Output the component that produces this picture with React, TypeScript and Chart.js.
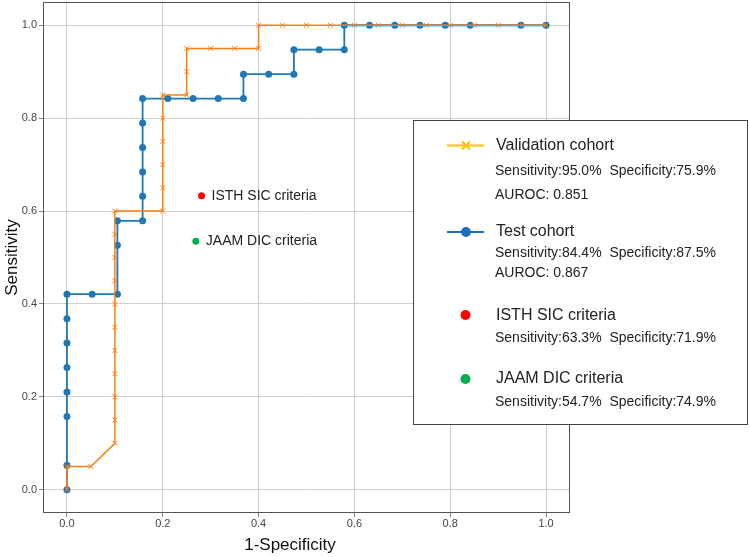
import React, { useEffect, useRef } from 'react';
import { Chart, registerables } from 'chart.js';
Chart.register(...registerables);

const FONT = '"Liberation Sans", Arial, sans-serif';

// Validation cohort ROC (1-Specificity, Sensitivity)
const valFpr = [0, 0, 0.05, 0.1, 0.1, 0.1, 0.1, 0.1, 0.1, 0.1, 0.1, 0.1, 0.1, 0.1, 0.2, 0.2, 0.2, 0.2, 0.2, 0.2, 0.25, 0.25, 0.25, 0.3, 0.35, 0.4, 0.4, 0.45, 0.5, 0.55, 0.6, 0.65, 0.7, 0.75, 0.8, 0.85, 0.9, 0.95, 1.0];
const valTpr = [0, 0.05, 0.05, 0.1, 0.15, 0.2, 0.25, 0.3, 0.35, 0.4, 0.45, 0.5, 0.55, 0.6, 0.6, 0.65, 0.7, 0.75, 0.8, 0.85, 0.85, 0.9, 0.95, 0.95, 0.95, 0.95, 1.0, 1.0, 1.0, 1.0, 1.0, 1.0, 1.0, 1.0, 1.0, 1.0, 1.0, 1.0, 1.0];

// Test cohort ROC
const testFpr = [0, 0, 0, 0, 0, 0, 0, 0, 0.0526, 0.1053, 0.1053, 0.1053, 0.1579, 0.1579, 0.1579, 0.1579, 0.1579, 0.1579, 0.2105, 0.2632, 0.3158, 0.3684, 0.3684, 0.4211, 0.4737, 0.4737, 0.5263, 0.5789, 0.5789, 0.6316, 0.6842, 0.7368, 0.7895, 0.8421, 0.9474, 1.0];
const testTpr = [0, 0.0526, 0.1579, 0.2105, 0.2632, 0.3158, 0.3684, 0.4211, 0.4211, 0.4211, 0.5263, 0.5789, 0.5789, 0.6316, 0.6842, 0.7368, 0.7895, 0.8421, 0.8421, 0.8421, 0.8421, 0.8421, 0.8947, 0.8947, 0.8947, 0.9474, 0.9474, 0.9474, 1.0, 1.0, 1.0, 1.0, 1.0, 1.0, 1.0, 1.0];

// Criteria points
const isthPoint = { x: 0.281, y: 0.633 };
const jaamPoint = { x: 0.269, y: 0.535 };
const isthLabel = 'ISTH SIC criteria';
const jaamLabel = 'JAAM DIC criteria';

const xTicks = [0, 0.2, 0.4, 0.6, 0.8, 1.0];
const yTicks = [0, 0.2, 0.4, 0.6, 0.8, 1.0];
const xTitle = '1-Specificity';
const yTitle = 'Sensitivity';

const legendTitles = ['Validation cohort', 'Test cohort', 'ISTH SIC criteria', 'JAAM DIC criteria'];
const legendStats = [
  ['Sensitivity:95.0%  Specificity:75.9%', 'AUROC: 0.851'],
  ['Sensitivity:84.4%  Specificity:87.5%', 'AUROC: 0.867'],
  ['Sensitivity:63.3%  Specificity:71.9%'],
  ['Sensitivity:54.7%  Specificity:74.9%'],
];

const ORANGE = '#ff7f0e';
const BLUE = '#1f77b4';

const toPts = (xs: number[], ys: number[]) => xs.map((x, i) => ({ x, y: ys[i] }));

const overlay = {
  id: 'overlay',
  afterDatasetsDraw(chart: any) {
    const { ctx, chartArea: a } = chart;
    const xs = chart.scales.x;
    const ys = chart.scales.y;
    ctx.save();
    ctx.strokeStyle = '#555';
    ctx.lineWidth = 1;
    ctx.strokeRect(Math.round(a.left) + 0.5, Math.round(a.top) + 0.5, Math.round(a.right - a.left) - 1, Math.round(a.bottom - a.top) - 1);
    ctx.fillStyle = '#222';
    ctx.font = `14px ${FONT}`;
    ctx.textBaseline = 'middle';
    ctx.textAlign = 'left';
    ctx.fillText(isthLabel, xs.getPixelForValue(isthPoint.x) + 10, ys.getPixelForValue(isthPoint.y));
    ctx.fillText(jaamLabel, xs.getPixelForValue(jaamPoint.x) + 10, ys.getPixelForValue(jaamPoint.y));
    ctx.restore();
  },
  afterDraw(chart: any) {
    const { ctx } = chart;
    ctx.save();
    // x title
    ctx.fillStyle = '#111';
    ctx.font = `17px ${FONT}`;
    ctx.textAlign = 'center';
    ctx.textBaseline = 'middle';
    ctx.fillText(xTitle, 290, 545);

    // legend box
    ctx.fillStyle = '#ffffff';
    ctx.fillRect(413, 120, 335, 305);
    ctx.strokeStyle = '#444';
    ctx.lineWidth = 1;
    ctx.strokeRect(413.5, 120.5, 334, 304);

    ctx.textAlign = 'left';
    ctx.textBaseline = 'middle';
    // validation
    ctx.strokeStyle = '#FFC000';
    ctx.lineWidth = 2;
    ctx.beginPath();
    ctx.moveTo(447, 145.5);
    ctx.lineTo(484, 145.5);
    ctx.stroke();
    ctx.beginPath();
    ctx.moveTo(462, 141.5); ctx.lineTo(470, 149.5);
    ctx.moveTo(470, 141.5); ctx.lineTo(462, 149.5);
    ctx.stroke();
    // test
    ctx.strokeStyle = '#1d6fc3';
    ctx.beginPath();
    ctx.moveTo(447, 232);
    ctx.lineTo(484, 232);
    ctx.stroke();
    ctx.fillStyle = '#1d6fc3';
    ctx.beginPath(); ctx.arc(466, 232, 5, 0, Math.PI * 2); ctx.fill();
    // isth
    ctx.fillStyle = '#ff0000';
    ctx.beginPath(); ctx.arc(465.5, 315, 5, 0, Math.PI * 2); ctx.fill();
    // jaam
    ctx.fillStyle = '#00b050';
    ctx.beginPath(); ctx.arc(465.5, 379, 5, 0, Math.PI * 2); ctx.fill();

    ctx.fillStyle = '#222';
    const titleY = [146, 232, 316, 379];
    const statY = [[171, 195], [253, 273], [338], [402]];
    legendTitles.forEach((t, i) => {
      ctx.font = `16px ${FONT}`;
      ctx.fillText(t, 496, titleY[i]);
      ctx.font = `14px ${FONT}`;
      legendStats[i].forEach((s, j) => ctx.fillText(s, 495, statY[i][j]));
    });
    ctx.restore();
  },
};

export default function App() {
  const ref = useRef<HTMLCanvasElement>(null);
  useEffect(() => {
    if (!ref.current) return;
    const chart = new Chart(ref.current, {
      type: 'scatter',
      data: {
        datasets: [
          {
            label: 'ISTH',
            data: [isthPoint],
            backgroundColor: '#ff0000',
            borderColor: '#ff0000',
            pointRadius: 3.5,
            pointBorderWidth: 0,
            order: 0,
          },
          {
            label: 'JAAM',
            data: [jaamPoint],
            backgroundColor: '#00b050',
            borderColor: '#00b050',
            pointRadius: 3.5,
            pointBorderWidth: 0,
            order: 0,
          },
          {
            label: 'Validation cohort',
            data: toPts(valFpr, valTpr),
            showLine: true,
            borderColor: ORANGE,
            backgroundColor: ORANGE,
            borderWidth: 1.5,
            pointStyle: 'crossRot',
            pointRadius: 3.5,
            pointBorderWidth: 1,
            pointBorderColor: ORANGE,
            order: 1,
          },
          {
            label: 'Test cohort',
            data: toPts(testFpr, testTpr),
            showLine: true,
            borderColor: BLUE,
            backgroundColor: BLUE,
            borderWidth: 1.8,
            pointStyle: 'circle',
            pointRadius: 3.5,
            pointBorderWidth: 0,
            order: 2,
          },
        ],
      },
      options: {
        animation: false,
        responsive: false,
        layout: { autoPadding: false, padding: { left: 0, right: 180, top: 2, bottom: 0 } },
        plugins: { legend: { display: false }, tooltip: { enabled: false } },
        scales: {
          x: {
            type: 'linear',
            min: -0.05,
            max: 1.05,
            afterBuildTicks: (s: any) => { s.ticks = xTicks.map((v) => ({ value: v })); },
            afterFit: (s: any) => { s.height = 44; s.paddingLeft = 0; s.paddingRight = 0; },
            ticks: {
              callback: (v: any) => Number(v).toFixed(1),
              font: { family: FONT, size: 11 },
              color: '#444',
              padding: 0,
            },
            grid: { color: '#cfcfcf', lineWidth: 1, tickLength: 4, tickColor: '#888' },
            border: { display: false },
          },
          y: {
            type: 'linear',
            min: -0.05,
            max: 1.05,
            afterBuildTicks: (s: any) => { s.ticks = yTicks.map((v) => ({ value: v })); },
            afterFit: (s: any) => { s.width = 43; s.paddingTop = 0; s.paddingBottom = 0; },
            ticks: {
              callback: (v: any) => Number(v).toFixed(1),
              font: { family: FONT, size: 11 },
              color: '#444',
              padding: 2,
            },
            grid: { color: '#cfcfcf', lineWidth: 1, tickLength: 4, tickColor: '#888' },
            border: { display: false },
            title: {
              display: true,
              text: yTitle,
              font: { family: FONT, size: 17 },
              color: '#111',
              padding: { top: 2, bottom: 0 },
            },
          },
        },
      },
      plugins: [overlay],
    } as any);
    return () => chart.destroy();
  }, []);
  return (
    <div style={{ position: 'absolute', left: 0, top: 0, width: 750, height: 557, background: '#fff' }}>
      <canvas ref={ref} width={750} height={557} />
    </div>
  );
}
